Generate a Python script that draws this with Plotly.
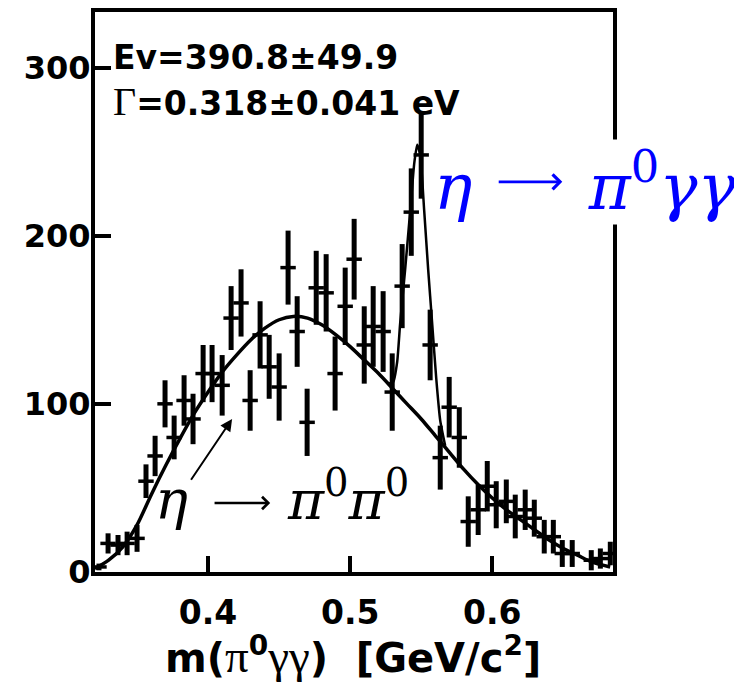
import plotly.graph_objects as go

# ---- data ----
mass = [0.3232, 0.3296, 0.3366, 0.3430, 0.3500, 0.3563, 0.3627, 0.3697, 0.3761, 0.3831,
        0.3894, 0.3965, 0.4028, 0.4099, 0.4162, 0.4232, 0.4296, 0.4366, 0.4430, 0.4500,
        0.4563, 0.4627, 0.4697, 0.4761, 0.4831, 0.4894, 0.4965, 0.5028, 0.5099, 0.5162,
        0.5232, 0.5296, 0.5366, 0.5430, 0.5500, 0.5563, 0.5634, 0.5697, 0.5768, 0.5831,
        0.5901, 0.5965, 0.6028, 0.6099, 0.6162, 0.6232, 0.6296, 0.6366, 0.6430, 0.6493,
        0.6563, 0.6697, 0.6761, 0.6831]
counts = [3, 17, 16, 17, 20, 54, 69, 100, 80, 102,
          91, 118, 118, 111, 151, 160, 102, 141, 122, 110,
          181, 143, 89, 169, 166, 118, 158, 186, 135, 146,
          143, 107, 170, 214, 248, 135, 68, 98, 80, 30,
          37, 51, 40, 42, 33, 37, 32, 21, 21, 11,
          11, 7, 8, 11]
errors = [2, 6, 6, 7, 8, 10, 12, 14, 13, 15,
          15, 17, 17, 18, 19, 20, 18, 20, 19, 20,
          22, 21, 20, 22, 23, 22, 23, 24, 23, 24,
          24, 23, 25, 26, 26, 21, 19, 18, 18, 15,
          15, 15, 14, 13, 13, 12, 11, 10, 10, 8,
          8, 6, 6, 7]

# background fit curve (eta -> pi0 pi0)
bg_x = [0.3204, 0.330, 0.340, 0.350, 0.360, 0.370, 0.380, 0.390, 0.400, 0.410,
        0.420, 0.430, 0.440, 0.450, 0.460, 0.470, 0.480, 0.490, 0.500, 0.510,
        0.520, 0.530, 0.540, 0.550, 0.560, 0.570, 0.580, 0.590, 0.600, 0.610,
        0.620, 0.630, 0.640, 0.650, 0.660, 0.670, 0.683]
bg_y = [2, 7, 15, 28, 46, 63, 79, 94, 107, 119,
        129, 138, 145, 150, 152, 151, 147, 141, 134, 126,
        118, 109, 100, 91, 81, 71, 61, 52, 44, 37,
        31, 25, 19, 14, 10, 6, 3]

# signal + background curve around the eta peak
pk_x = [0.5268, 0.5303, 0.5331, 0.5352, 0.5387, 0.5423, 0.5451, 0.5472, 0.5493, 0.5521,
        0.5549, 0.5577, 0.5606, 0.5634, 0.5669]
pk_y = [112, 113, 125, 148, 180, 215, 243, 254, 248, 215,
        180, 148, 115, 90, 75]

x_ticks = [0.4, 0.5, 0.6]
x_tick_labels = ["0.4", "0.5", "0.6"]
y_ticks = [0, 100, 200, 300]
y_tick_labels = ["0", "100", "200", "300"]

SANS = "DejaVu Sans"
SERIF = "Liberation Serif"
MATH = "DejaVu Serif"
GAP = "&#8195;&#8194;&nbsp;"   # room for the drawn reaction arrow


def serif(txt, size):
    return ("<span style=\"font-family:'%s';font-weight:normal;font-size:%dpx\">%s</span>"
            % (SERIF, size, txt))


fig = go.Figure()

fig.add_trace(go.Scatter(
    x=bg_x, y=bg_y, mode="lines",
    line=dict(color="black", width=3.5, shape="spline", smoothing=0.8),
    hoverinfo="skip", showlegend=False))

fig.add_trace(go.Scatter(
    x=pk_x, y=pk_y, mode="lines",
    line=dict(color="black", width=2.5, shape="spline", smoothing=0.5),
    hoverinfo="skip", showlegend=False))

fig.add_trace(go.Scatter(
    x=mass, y=counts, mode="markers",
    marker=dict(symbol="line-ew", size=11, color="black",
                line=dict(color="black", width=3.5)),
    error_y=dict(type="data", array=errors, visible=True,
                 thickness=5, width=0, color="black"),
    showlegend=False))

fig.update_xaxes(
    range=[0.3204, 0.685], showgrid=False, zeroline=False, automargin=False,
    showline=True, linecolor="black", linewidth=4, mirror=True,
    ticks="inside", ticklen=16, tickwidth=4, tickcolor="black",
    tickvals=x_ticks, ticktext=x_tick_labels, ticklabelstandoff=8,
    tickfont=dict(family=SANS, size=33, color="black", weight="bold"),
)
fig.update_yaxes(
    range=[0, 333], showgrid=False, zeroline=False, automargin=False,
    showline=True, linecolor="black", linewidth=4, mirror=True,
    ticks="inside", ticklen=16, tickwidth=4, tickcolor="black",
    tickvals=y_ticks, ticktext=y_tick_labels, ticklabelstandoff=-6,
    tickfont=dict(family=SANS, size=32, color="black", weight="bold"),
)

annotations = [
    dict(x=0.0, y=1.0, xref="paper", yref="paper", xanchor="left", yanchor="middle",
         xshift=16, yshift=-45, showarrow=False, align="left",
         text="<b>Ev=390.8±49.9</b>",
         font=dict(family=SANS, size=33, color="black")),
    dict(x=0.0, y=1.0, xref="paper", yref="paper", xanchor="left", yanchor="middle",
         xshift=16, yshift=-89, showarrow=False, align="left",
         text=serif("Γ", 40) + "<b>=0.318±0.041 eV</b>",
         font=dict(family=SANS, size=33, color="black")),
    # x-axis title
    dict(x=0.502, y=0, xref="x", yref="paper", xanchor="center", yanchor="middle",
         yshift=-83, showarrow=False,
         text=("<b>m(</b>" + serif("π", 47) + "<sup><b>0</b></sup>" + serif("γγ", 47)
               + "<b>)&nbsp;&nbsp;[GeV/c<sup>2</sup>]</b>"),
         font=dict(family=SANS, size=40, color="black")),
    # blue label: eta -> pi0 gamma gamma
    dict(x=0.5585, y=232, xref="x", yref="y", xanchor="left", yanchor="middle",
         showarrow=False, bgcolor="white", borderpad=0,
         text="<i>η</i>" + GAP + "<i>π</i><sup>0</sup><i>γγ</i>",
         font=dict(family=MATH, size=64, color="#0000ff")),
    # black label: eta -> pi0 pi0
    dict(x=0.3610, y=45, xref="x", yref="y", xanchor="left", yanchor="middle",
         showarrow=False,
         text="<i>η</i>" + GAP + "<i>π</i><sup>0</sup><i>π</i><sup>0</sup>",
         font=dict(family=MATH, size=55, color="black")),
    # reaction arrows inside the labels
    dict(x=0.6493, y=232, ax=0.6035, ay=232, xref="x", yref="y", axref="x", ayref="y",
         text="", showarrow=True, arrowhead=4, arrowsize=1.1, arrowwidth=2.6,
         arrowcolor="#0000ff", standoff=0, startstandoff=0),
    dict(x=0.4437, y=41, ax=0.4035, ay=41, xref="x", yref="y", axref="x", ayref="y",
         text="", showarrow=True, arrowhead=4, arrowsize=1.0, arrowwidth=2.4,
         arrowcolor="black", standoff=0, startstandoff=0),
    # pointer arrow towards the background curve
    dict(x=0.4169, y=91, ax=0.3873, ay=54, xref="x", yref="y", axref="x", ayref="y",
         text="", showarrow=True, arrowhead=2, arrowsize=1.2, arrowwidth=2,
         arrowcolor="black"),
]

fig.update_layout(
    width=742, height=682,
    margin=dict(l=87, r=137, t=4, b=118),
    paper_bgcolor="white", plot_bgcolor="white",
    annotations=annotations,
)

fig.write_html("out.html")
